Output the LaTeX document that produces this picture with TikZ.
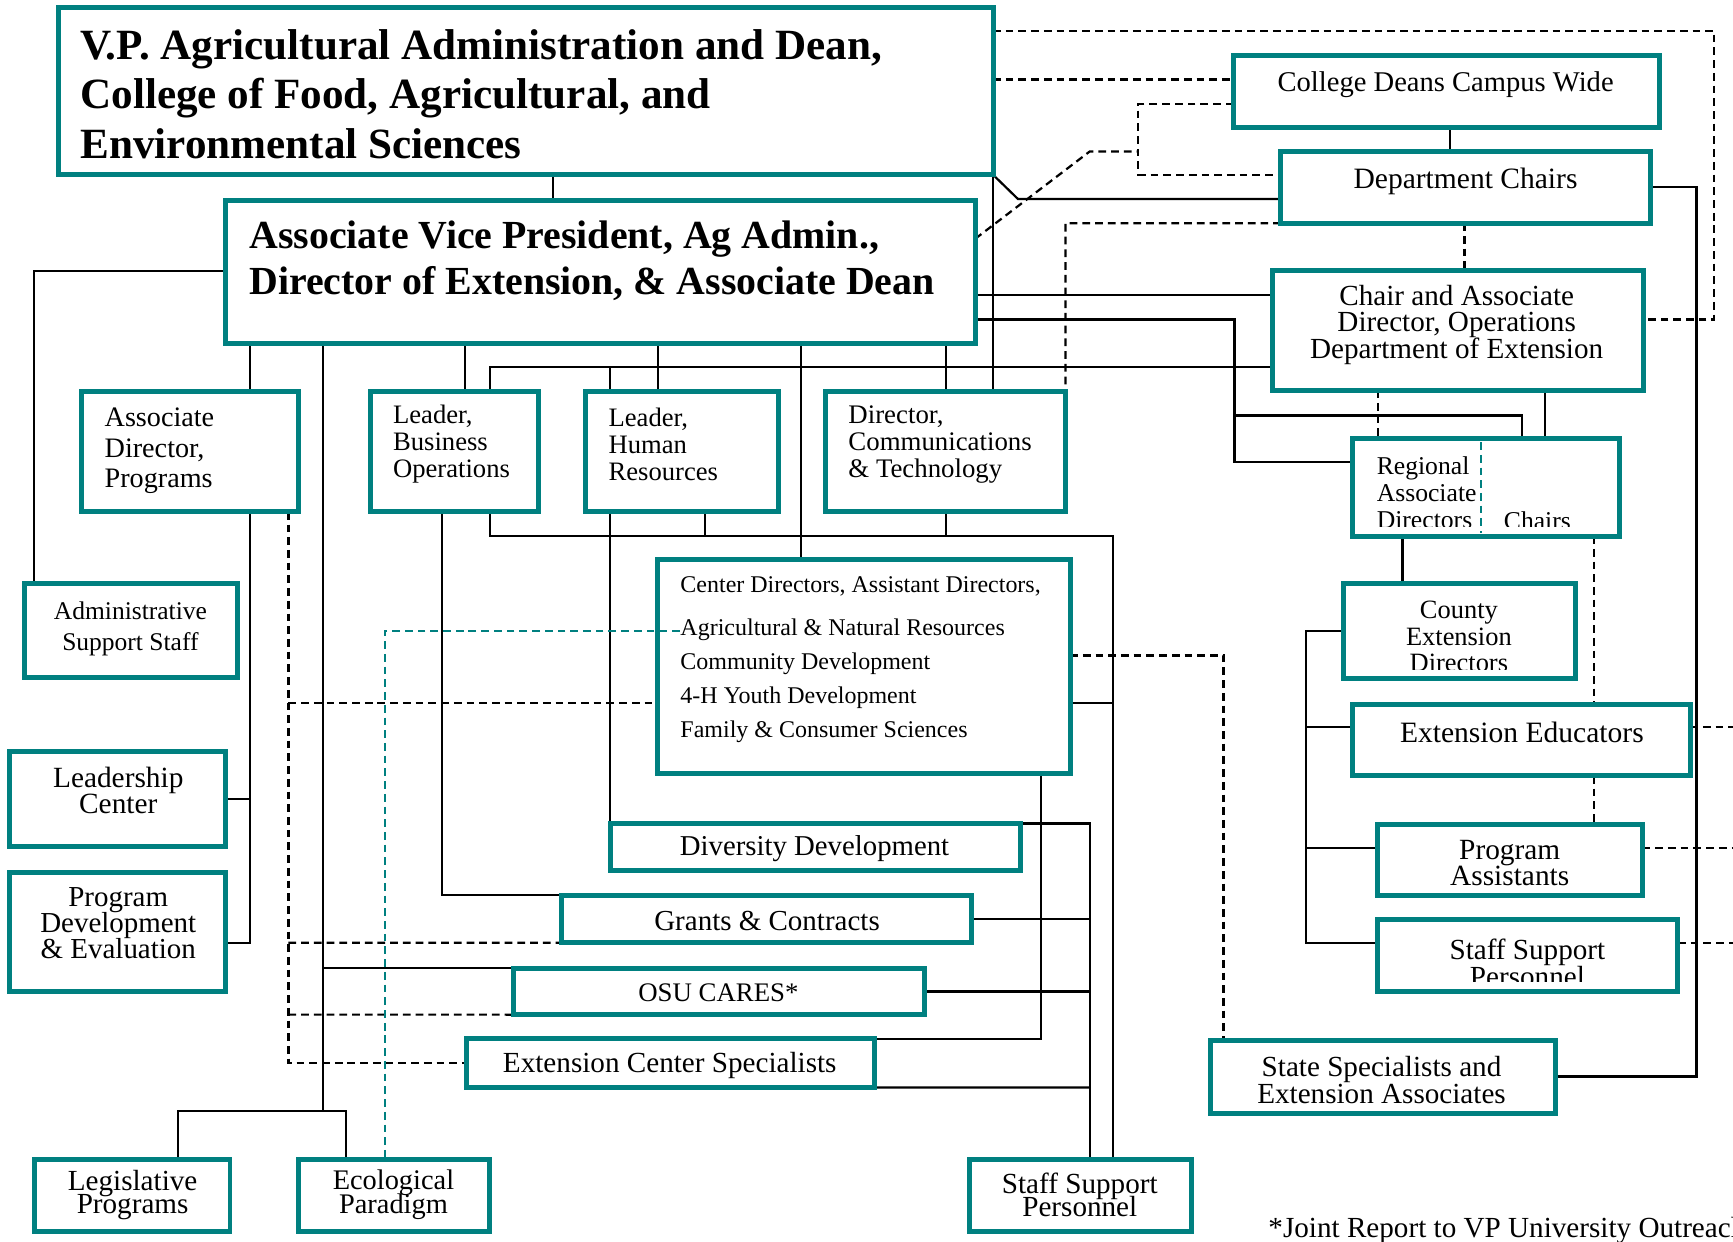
\documentclass[tikz,border=0pt]{standalone}
\usepackage{fontspec}
\setmainfont{Liberation Serif}
\usetikzlibrary{backgrounds}
\definecolor{boxteal}{RGB}{0,128,128}
\lineskiplimit=-100pt

\begin{document}
\begin{tikzpicture}[x=0.01cm, y=-0.01cm,
    orgbox/.style={draw=boxteal, line width=0.045cm, fill=white, anchor=north west,
      inner sep=0pt, outer sep=0pt},
    link/.style={line width=0.02cm},
    dlink/.style={link, dash pattern=on 0.07cm off 0.045cm},
    tlink/.style={dlink, draw=boxteal},
    bigtxt/.style={inner sep=0pt, align=left, font=\bfseries\fontsize{11.1}{12.7}\selectfont},
    gtxt/.style={inner sep=0pt, align=center, font=\fontsize{7.5}{6.8}\selectfont},
    ttxt/.style={inner sep=0pt, align=left, font=\fontsize{6.9}{7}\selectfont},
  ]
  \useasboundingbox (0,0) rectangle (1568,1123);
  \coordinate (redge) at (1568,0);

  % administration
  \node[orgbox, minimum width=8.45cm, minimum height=1.51cm] (vp) at (53,7) {};
  \node[orgbox, minimum width=6.78cm, minimum height=1.30cm] (avp) at (204,181) {};
  \node[bigtxt, anchor=west] (vp-txt) at (72,85)
    {V.P. Agricultural Administration and Dean,\\College of Food, Agricultural, and\\Environmental Sciences};
  \node[bigtxt, anchor=west, font=\bfseries\fontsize{10.25}{12}\selectfont] (avp-txt) at (225,236)
    {Associate Vice President, Ag Admin.,\\Director of Extension, \& Associate Dean};

  % campus side
  \node[orgbox, minimum width=3.85cm, minimum height=0.65cm] (cdeans) at (1116,50) {};
  \node[orgbox, minimum width=3.34cm, minimum height=0.65cm] (dchairs) at (1159,137) {};
  \node[orgbox, minimum width=3.36cm, minimum height=1.08cm] (chair) at (1151,245) {};
  \node[orgbox, minimum width=2.41cm, minimum height=0.88cm] (rad) at (1224,397) {};
  \node[orgbox, minimum width=2.09cm, minimum height=0.86cm] (ced) at (1216,528) {};
  \node[orgbox, minimum width=3.05cm, minimum height=0.65cm] (eedu) at (1224,637) {};
  \node[orgbox, minimum width=2.40cm, minimum height=0.64cm] (passt) at (1246,746) {};
  \node[orgbox, minimum width=2.72cm, minimum height=0.65cm] (sspr) at (1246,832) {};
  \node[orgbox, minimum width=3.12cm, minimum height=0.66cm] (sspec) at (1095,941) {};

  \node[gtxt, font=\fontsize{7.35}{6.8}\selectfont] (cdeans-txt) at (1308,77) {College Deans Campus Wide};
  \node[gtxt, font=\fontsize{7.6}{6.8}\selectfont] (dchairs-txt) at (1326,164) {Department Chairs};
  \node[gtxt] (chair-txt) at (1318,294) {Chair and Associate\\Director, Operations\\Department of Extension};
  \begin{scope}
    \clip (rad.north west) rectangle ([yshift=0.085cm]rad.south east);
    \node[gtxt, align=left, anchor=west, font=\fontsize{6.6}{7}\selectfont] (rad-txt) at (1245,446)
      {Regional\\Associate\\Directors};
    \node[gtxt, anchor=west, font=\fontsize{6.6}{7}\selectfont] (rad-txt2) at (1360,471) {Chairs};
  \end{scope}
  \draw[tlink, shorten <=0.03cm, shorten >=0.03cm] (rad.north -| 1340,0) -- (rad.south -| 1340,0);
  \begin{scope}
    \clip (ced.north west) rectangle ([yshift=0.085cm]ced.south east);
    \node[gtxt, font=\fontsize{6.8}{6.8}\selectfont] (ced-txt) at (1320,576) {County\\Extension\\Directors};
  \end{scope}
  \node[gtxt, font=\fontsize{7.6}{6.8}\selectfont] (eedu-txt) at (1377,663) {Extension Educators};
  \node[gtxt, font=\fontsize{7.55}{6.8}\selectfont] (passt-txt) at (1366,781) {Program\\Assistants};
  \begin{scope}
    \clip (sspr.north west) rectangle ([yshift=0.09cm]sspr.south east);
    \node[gtxt] (sspr-txt) at (1382,871) {Staff Support\\Personnel};
  \end{scope}
  \node[gtxt] (sspec-txt) at (1250,977) {State Specialists and\\Extension Associates};

  % extension side
  \node[orgbox, minimum width=1.96cm, minimum height=1.09cm] (adp) at (74,354) {};
  \node[orgbox, minimum width=1.52cm, minimum height=1.09cm] (lbo) at (335,354) {};
  \node[orgbox, minimum width=1.74cm, minimum height=1.09cm] (lhr) at (530,354) {};
  \node[orgbox, minimum width=2.17cm, minimum height=1.09cm] (dct) at (747,354) {};
  \node[orgbox, minimum width=1.93cm, minimum height=0.85cm] (ass) at (22,528) {};
  \node[orgbox, minimum width=3.73cm, minimum height=1.94cm] (cdir) at (595,506) {};
  \node[orgbox, minimum width=1.95cm, minimum height=0.86cm] (lc) at (9,680) {};
  \node[orgbox, minimum width=1.95cm, minimum height=1.08cm] (pde) at (9,789) {};
  \node[orgbox, minimum width=3.71cm, minimum height=0.43cm] (dd) at (552,745) {};
  \node[orgbox, minimum width=3.71cm, minimum height=0.43cm] (gc) at (508,810) {};
  \node[orgbox, minimum width=3.71cm, minimum height=0.42cm] (osu) at (465,876) {};
  \node[orgbox, minimum width=3.69cm, minimum height=0.44cm] (ecs) at (422,940) {};
  \node[orgbox, minimum width=1.77cm, minimum height=0.65cm] (lp) at (31,1049) {};
  \node[orgbox, minimum width=1.73cm, minimum height=0.65cm] (ep) at (270,1049) {};
  \node[orgbox, minimum width=2.01cm, minimum height=0.65cm] (ssp) at (877,1049) {};

  \node[ttxt, anchor=west, font=\fontsize{7.25}{7.8}\selectfont] (adp-txt) at (94,408) {Associate\\Director,\\Programs};
  \node[ttxt, anchor=west, font=\fontsize{6.85}{7}\selectfont] (lbo-txt) at (355,402) {Leader,\\Business\\Operations};
  \node[ttxt, anchor=west, font=\fontsize{6.85}{7}\selectfont] (lhr-txt) at (550,402) {Leader,\\Human\\Resources};
  \node[ttxt, anchor=west] (dct-txt) at (767,402) {Director,\\Communications\\\& Technology};
  \node[ttxt, align=center, font=\fontsize{6.56}{8}\selectfont] (ass-txt) at (118,569) {Administrative\\Support Staff};
  \node[ttxt, anchor=west, font=\fontsize{6.17}{8.8}\selectfont] (cdir-txt) at (615,597)
    {Center Directors, Assistant Directors,\\[2.2pt]Agricultural \& Natural Resources\\Community Development\\4-H Youth Development\\Family \& Consumer Sciences};
  \node[ttxt, align=center, font=\fontsize{7.55}{6.8}\selectfont] (lc-txt) at (107,715) {Leadership\\Center};
  \node[ttxt, align=center, font=\fontsize{7.45}{6.7}\selectfont] (pde-txt) at (107,835) {Program\\Development\\\& Evaluation};
  \node[gtxt, font=\fontsize{7.4}{6.8}\selectfont] (dd-txt) at (737,768) {Diversity Development};
  \node[gtxt, font=\fontsize{7.46}{6.8}\selectfont] (gc-txt) at (694,833) {Grants \& Contracts};
  \node[gtxt, font=\fontsize{6.9}{6.8}\selectfont] (osu-txt) at (650,898) {OSU CARES*};
  \node[gtxt] (ecs-txt) at (606,964) {Extension Center Specialists};
  \node[ttxt, align=center, font=\fontsize{7.5}{6}\selectfont] (lp-txt) at (120,1081) {Legislative\\Programs};
  \node[ttxt, align=center, font=\fontsize{7.3}{6}\selectfont] (ep-txt) at (356,1081) {Ecological\\Paradigm};
  \node[gtxt, font=\fontsize{7.5}{6}\selectfont] (ssp-txt) at (977,1081) {Staff Support\\Personnel};
  \node[gtxt, anchor=west] (note) at (1147,1113) {*Joint Report to VP University Outreach};

  \begin{scope}[on background layer]
    % solid lines
    \draw[link] (vp.south -| 500,0) -- (avp.north -| 500,0);
    \draw[link] (vp.south east) -- (921,180) -- (dchairs.west |- 0,180);
    \draw[link] (vp.south east) -- (dct.north -| vp.south east);
    \draw[link] (avp.east |- 0,267) -- (chair.west |- 0,267);
    \draw[link] (avp.east |- 0,289) -- (1117,289) -- (1117,418) -- (rad.west |- 0,418);
    \draw[link] (1117,376) -- (1377,376) -- (rad.north -| 1377,0);
    \draw[link] (chair.west |- 0,332) -- (443,332) -- (lbo.north -| 443,0);
    \draw[link] (552,332) -- (lhr.north -| 552,0);
    \draw[link] (avp.west |- 0,245) -- (31,245) -- (ass.north -| 31,0);
    \draw[link] (avp.south -| 226,0) -- (adp.north -| 226,0);
    \draw[link] (avp.south -| 421,0) -- (lbo.north -| 421,0);
    \draw[link] (avp.south -| 595,0) -- (lhr.north -| 595,0);
    \draw[link] (avp.south -| 725,0) -- (cdir.north -| 725,0);
    \draw[link] (avp.south -| 856,0) -- (dct.north -| 856,0);
    \draw[link] (avp.south -| 292,0) -- (292,1005);
    \draw[link] (lp.north -| 161,0) -- (161,1005) -- (313,1005) -- (ep.north -| 313,0);
    \draw[link] (292,876) -- (osu.north west);
    \draw[link] (adp.south -| 226,0) -- (226,853) -- (pde.east |- 0,853);
    \draw[link] (lc.east |- 0,723) -- (226,723);
    \draw[link] (lbo.south -| 400,0) -- (400,810) -- (gc.north west);
    \draw[link] (lbo.south -| 443,0) -- (443,485) -- (1007,485) -- (ssp.north -| 1007,0);
    \draw[link] (lhr.south -| 638,0) -- (638,485);
    \draw[link] (dct.south -| 856,0) -- (856,485);
    \draw[link] (cdir.east |- 0,636) -- (1007,636);
    \draw[link] (lhr.south -| 552,0) -- (dd.north west);
    \draw[link] (cdir.south -| 942,0) -- (942,940) -- (ecs.north east);
    \draw[link] (dd.north east) -- (986,745) -- (ssp.north -| 986,0);
    \draw[link] (gc.east) -- (gc.east -| 986,0);
    \draw[link] (osu.east) -- (osu.east -| 986,0);
    \draw[link] (ecs.south east) -- (986,984);
    \draw[link] (dchairs.east) -- (dchairs.east -| 1535,0) -- (sspec.east -| 1535,0) -- (sspec.east);
    \draw[link] (cdeans.south -| 1312,0) -- (dchairs.north -| 1312,0);
    \draw[link] (chair.south -| 1398,0) -- (rad.north -| 1398,0);
    \draw[link] (rad.south -| 1269,0) -- (ced.north -| 1269,0);
    \draw[link] (ced.west) -- (ced.west -| 1182,0) -- (1182,853) -- (sspr.west |- 0,853);
    \draw[link] (eedu.west |- 0,658) -- (1182,658);
    \draw[link] (passt.west |- 0,767) -- (1182,767);
    % dashed lines
    \draw[dlink] (vp.east |- 0,28) -- (1551,28) -- (1551,289) -- (chair.east |- 0,289);
    \draw[dlink] (vp.east |- 0,72) -- (cdeans.west |- 0,72);
    \draw[dlink] (cdeans.west |- 0,94) -- (1030,94) -- (1030,158) -- (dchairs.west |- 0,158);
    \draw[dlink] (avp.east |- 0,216) -- (986,137) -- (1030,137);
    \draw[dlink] (dchairs.south west) -- (964,202) -- (dct.north east);
    \draw[dlink] (dchairs.south -| 1325,0) -- (chair.north -| 1325,0);
    \draw[dlink] (chair.south -| 1247,0) -- (rad.north -| 1247,0);
    \draw[dlink] (rad.south -| 1442,0) -- (eedu.north -| 1442,0);
    \draw[dlink] (eedu.south -| 1442,0) -- (passt.north -| 1442,0);
    \draw[dlink] (eedu.east |- 0,658) -- (redge |- 0,658);
    \draw[dlink] (passt.east |- 0,767) -- (redge |- 0,767);
    \draw[dlink] (sspr.east |- 0,853) -- (redge |- 0,853);
    \draw[dlink] (cdir.east |- 0,593) -- (1107,593) -- (sspec.north -| 1107,0);
    \draw[dlink] (adp.south -| 261,0) -- (261,962) -- (ecs.west |- 0,962);
    \draw[dlink] (261,636) -- (cdir.west |- 0,636);
    \draw[dlink] (261,853) -- (gc.south west);
    \draw[dlink] (261,918) -- (osu.south west);
  \end{scope}
  \draw[tlink] (cdir-txt.west |- 0,571) -- (348,571) -- (ep.north -| 348,0);
\end{tikzpicture}
\end{document}
